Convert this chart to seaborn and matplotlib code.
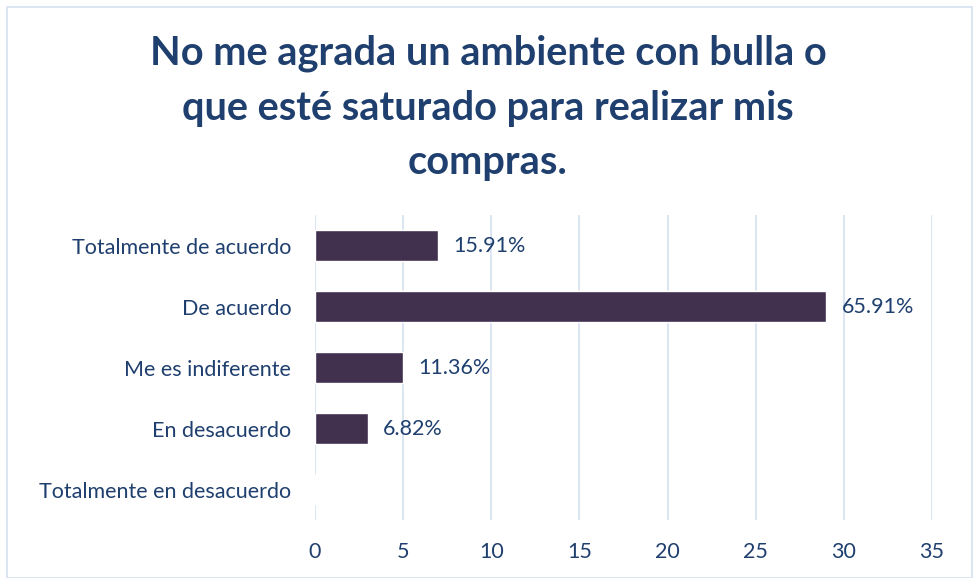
import matplotlib
matplotlib.use('Agg')
import matplotlib.pyplot as plt
import seaborn as sns
import pandas as pd
from matplotlib.patches import Rectangle

categorias = ['Totalmente de acuerdo', 'De acuerdo', 'Me es indiferente',
              'En desacuerdo', 'Totalmente en desacuerdo']
frecuencia = [7, 29, 5, 3, 0]
porcentajes = ['15.91%', '65.91%', '11.36%', '6.82%', '']
ticks_x = [0, 5, 10, 15, 20, 25, 30, 35]

titulo = 'No me agrada un ambiente con bulla o\nque esté saturado para realizar mis\ncompras.'

azul = '#1F3F6E'
barra = '#42304F'
rejilla = '#D6E1F0'

sns.set_theme(style='white')
plt.rcParams['font.family'] = ['Lato', 'DejaVu Sans']

df = pd.DataFrame({'categoria': categorias, 'n': frecuencia})

fig = plt.figure(figsize=(9.76, 5.78), dpi=100)
ax = fig.add_axes([0.3227, 0.1003, 0.6322, 0.5277])

sns.barplot(data=df, x='n', y='categoria', color=barra, saturation=1,
            width=0.5, ax=ax, orient='h')

ax.bar_label(ax.containers[0], labels=porcentajes, padding=11,
             fontsize=15.5, color=azul)

ax.set_xlim(0, 35)
ax.set_ylim(4.5, -0.5)
ax.set_xticks(ticks_x)
ax.xaxis.grid(True, color=rejilla, linewidth=1.2)
ax.set_axisbelow(True)
for s in ax.spines.values():
    s.set_visible(False)
ax.set_xlabel('')
ax.set_ylabel('')
ax.tick_params(axis='both', length=0, labelsize=15.5, labelcolor=azul)
ax.tick_params(axis='x', pad=16)
ax.tick_params(axis='y', pad=17)

fig.text(0.5, 0.813, titulo, ha='center', va='center', fontsize=28.6,
         fontweight='bold', color=azul, linespacing=1.58)

fig.patches.append(Rectangle((7 / 976, 0), 965 / 976, 1 - 7 / 578,
                             transform=fig.transFigure, fill=False,
                             edgecolor=rejilla, linewidth=1.2))

fig.savefig('out.png', dpi=100)
